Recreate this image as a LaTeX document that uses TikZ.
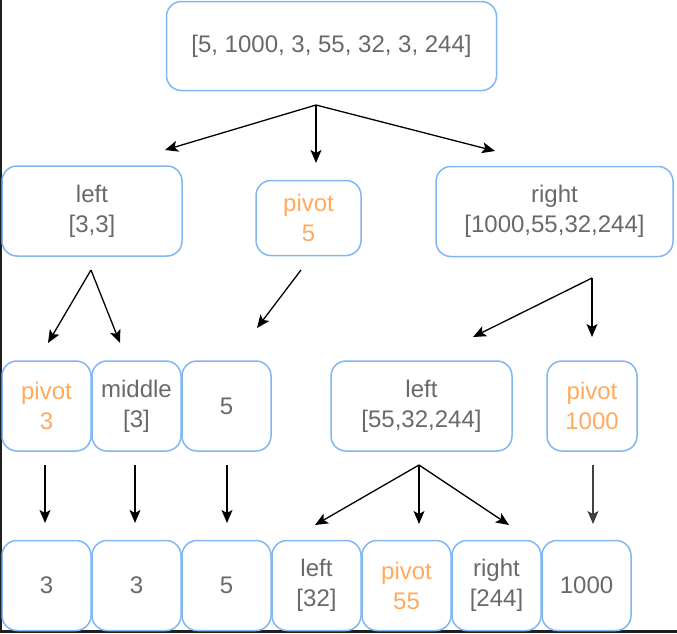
\documentclass[tikz,border=0pt]{standalone}
\usepackage{fontspec}
\setmainfont{Liberation Sans}
\usetikzlibrary{arrows.meta}
\definecolor{boxblue}{HTML}{80B6F2}
\definecolor{txtgray}{HTML}{696969}
\definecolor{piv}{HTML}{FFAA5E}
\definecolor{frame}{HTML}{1E1E1E}
\tikzset{
  box/.style={draw=boxblue, line width=1.5pt, rounded corners=15pt, fill=white,
    minimum height=90pt, inner sep=0pt, align=center, text=txtgray,
    font=\fontsize{24}{30}\selectfont},
  pv/.style={text=piv},
  arr/.style={line width=1.3pt, -{Stealth[length=13pt,width=11pt,inset=3pt]}}
}
\begin{document}
\begin{tikzpicture}[x=1pt,y=-1pt]
\useasboundingbox (0,0) rectangle (677,633);
\fill[frame] (0,0) rectangle (2,633);
\fill[frame] (0,630) rectangle (677,633);

% row 1
\node[box, minimum width=330pt, minimum height=89pt] (top) at (331.5,46) {[5, 1000, 3, 55, 32, 3, 244]};
% row 2
\node[box, minimum width=180pt] (left) at (92,211) {left\\{[3,3]}};
\node[box, minimum width=105pt, minimum height=75pt, pv] (p5) at (308.5,218) {pivot\\5};
\node[box, minimum width=237pt] (right) at (554.5,211.5) {right\\{[1000,55,32,244]}};
% row 3
\node[box, minimum width=89pt, pv] (p3) at (46.5,406) {pivot\\3};
\node[box, minimum width=89pt] (mid) at (136.5,406) {middle\\{[3]}};
\node[box, minimum width=89pt] (f5) at (226.5,406) {5};
\node[box, minimum width=181pt] (l55) at (421.5,406) {left\\{[55,32,244]}};
\node[box, minimum width=90pt, pv] (p1000) at (592,406) {pivot\\1000};
% row 4
\node[box, minimum width=89pt] (r1) at (46.5,585.5) {3};
\node[box, minimum width=89pt] (r2) at (136.5,585.5) {3};
\node[box, minimum width=89pt] (r3) at (226.5,585.5) {5};
\node[box, minimum width=89pt] (r4) at (316.5,585.5) {left\\{[32]}};
\node[box, minimum width=89pt, pv] (r5) at (406.5,585.5) {pivot\\55};
\node[box, minimum width=89pt] (r6) at (496.5,585.5) {right\\{[244]}};
\node[box, minimum width=89pt] (r7) at (586.5,585.5) {1000};

% coordinates for connectors
\coordinate (a0) at (316,105);
\coordinate (a1) at (165,150);
\coordinate (a2) at (316,163);
\coordinate (a3) at (495,151);
\coordinate (b0) at (91,270);
\coordinate (b1) at (48,343);
\coordinate (b2) at (120,343);
\coordinate (p0) at (301,270);
\coordinate (p1) at (257,328);
\coordinate (c0) at (592,278);
\coordinate (c1) at (473,337);
\coordinate (c2) at (592,337);
\coordinate (v1s) at (45,465);  \coordinate (v1e) at (45,523);
\coordinate (v2s) at (135,465); \coordinate (v2e) at (135,523);
\coordinate (v3s) at (227,465); \coordinate (v3e) at (227,523);
\coordinate (d0) at (419,465);
\coordinate (d1) at (315,525);
\coordinate (d2) at (419,524);
\coordinate (d3) at (509,525);
\coordinate (e0) at (593,465);
\coordinate (e1) at (593,524);

\draw[arr] (a0) -- (a1);
\draw[arr] (a0) -- (a2);
\draw[arr] (a0) -- (a3);
\draw[arr] (b0) -- (b1);
\draw[arr] (b0) -- (b2);
\draw[arr] (p0) -- (p1);
\draw[arr] (c0) -- (c1);
\draw[arr] (c0) -- (c2);
\draw[arr] (v1s) -- (v1e);
\draw[arr] (v2s) -- (v2e);
\draw[arr] (v3s) -- (v3e);
\draw[arr] (d0) -- (d1);
\draw[arr] (d0) -- (d2);
\draw[arr] (d0) -- (d3);
\draw[arr, draw=black!75, fill=black] (e0) -- (e1);
\end{tikzpicture}
\end{document}
